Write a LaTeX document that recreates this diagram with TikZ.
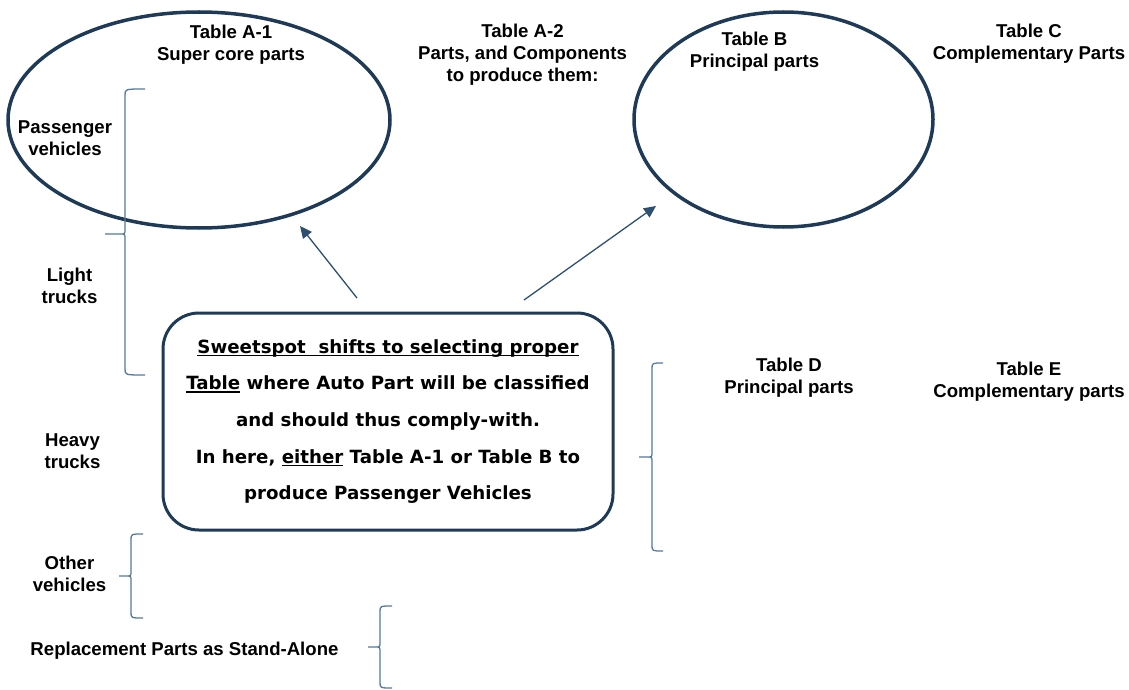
\documentclass[tikz,border=0pt]{standalone}
\usepackage{fontspec}
\setmainfont{Liberation Sans}
\newfontfamily\verd{DejaVu Sans}
\usetikzlibrary{shapes.geometric,arrows.meta}
\definecolor{navy}{HTML}{1F3A56}
\definecolor{arrowc}{HTML}{2E5070}
\definecolor{bracec}{HTML}{557A9C}
\newcommand\myul[1]{\setbox0\hbox{#1}\rlap{\rule[-3pt]{\wd0}{1.4pt}}\box0\relax}
\tikzset{
 lbl/.style={font=\bfseries\fontsize{18.6}{22}\selectfont, align=center, anchor=base, inner sep=0},
 oval/.style={draw=navy, line width=3.5, ellipse, inner sep=0},
 conn/.style={draw=arrowc, line width=1.3, -{Triangle[length=12,width=11]}},
 bracestyle/.style={draw=bracec, line width=1.3},
}
\newcommand\mybrace[6]{%
 \draw[bracestyle] (#1,#4) .. controls (#2,#4) .. (#2,#4+6) -- (#2,#5-5)
   .. controls (#2,#5) .. (#2-5,#5) -- (#3,#5) -- (#2-5,#5)
   .. controls (#2,#5) .. (#2,#5+5) -- (#2,#6-6) .. controls (#2,#6) .. (#1,#6);}
\begin{document}
\begin{tikzpicture}[x=1pt,y=-1pt]
\useasboundingbox (0,0) rectangle (1129,690);
\node[oval, minimum width=382, minimum height=216] (ovA) at (199,120) {};
\node[oval, minimum width=299, minimum height=215] (ovB) at (783.5,119.5) {};
\node[draw=navy, line width=3, rounded corners=36, minimum width=450, minimum height=217, inner sep=0, align=center, font=\verd\bfseries\fontsize{18.2}{36.7}\selectfont] (box) at (388,421.5)
 {\myul{Sweetspot\ \ shifts to selecting proper}\\ \myul{Table} where Auto Part will be classified\\ and should thus comply-with.\\ In here, \myul{either} Table A-1 or Table B to\\ produce Passenger Vehicles};
\node[lbl] (tA1) at (231,61) {Table A-1\\Super core parts};
\node[lbl] (tA2) at (522.5,81.7) {Table A-2\\Parts, and Components\\to produce them:};
\node[lbl] (tB) at (754.5,67.7) {Table B\\Principal parts};
\node[lbl] (tC) at (1029,60) {Table C\\Complementary Parts};
\node[lbl] (tD) at (789,393) {Table D\\Principal parts};
\node[lbl] (tE) at (1029,397) {Table E\\Complementary parts};
\node[lbl] (pv) at (65,155) {Passenger\\vehicles};
\node[lbl] (lt) at (69.5,303) {Light\\trucks};
\node[lbl] (ht) at (72.5,468) {Heavy\\trucks};
\node[lbl] (oth) at (69.5,591) {Other\\vehicles};
\node[lbl] (rp) at (184.5,655) {Replacement Parts as Stand-Alone};
\mybrace{145}{125}{105}{89}{234}{375}
\mybrace{663}{652}{639}{363}{457}{551}
\mybrace{143}{131}{119}{534}{576}{618}
\mybrace{392}{380}{368}{606}{647}{688}
\coordinate (a1s) at (357,298); \coordinate (a1e) at (300,226);
\coordinate (a2s) at (524,300); \coordinate (a2e) at (656,206);
\draw[conn] (a1s) -- (a1e);
\draw[conn] (a2s) -- (a2e);
\end{tikzpicture}
\end{document}
